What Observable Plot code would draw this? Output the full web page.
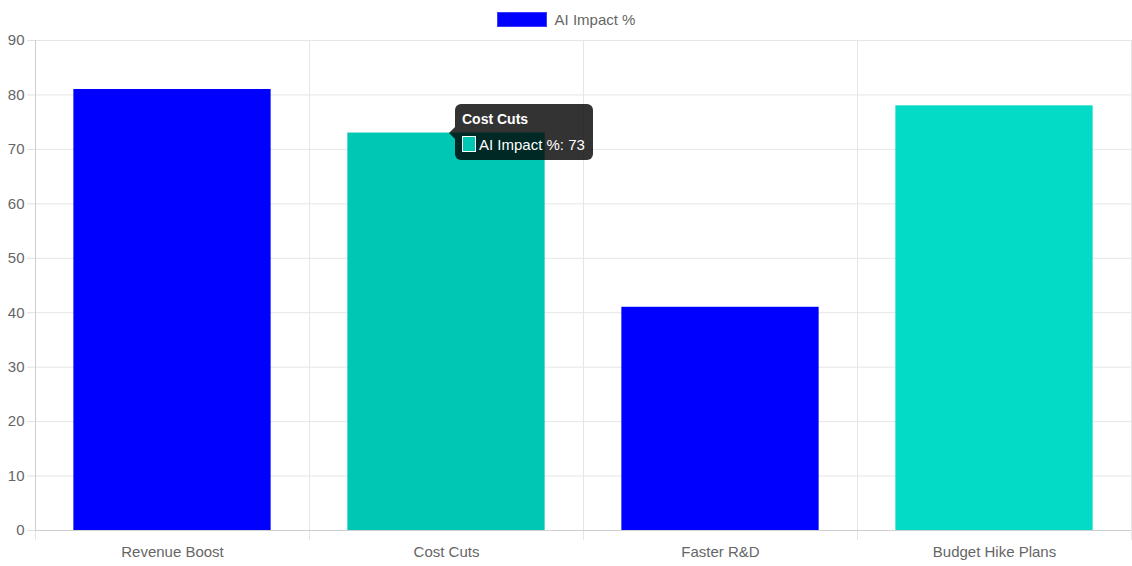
<!DOCTYPE html>
<html>
<head>
<meta charset="utf-8">
<script src="https://cdn.jsdelivr.net/npm/d3@7"></script>
<script src="https://cdn.jsdelivr.net/npm/@observablehq/plot@0.6"></script>
<style>
  html, body { margin: 0; padding: 0; background: #fff; }
  body { width: 1132px; height: 566px; overflow: hidden; font-family: "Liberation Sans", Arial, sans-serif; }
  #wrap { position: relative; width: 1132px; height: 566px; }
  #legend { height: 30px; display: flex; justify-content: center; align-items: center; padding-top: 8px; box-sizing: border-box; color: #666; font-size: 15px; }
  #legend .sw { width: 48px; height: 13px; background: #0000ff; border: 1px solid #3b3bff; margin-right: 8px; }
  .tip { position: absolute; background: rgba(0,0,0,0.8); color: #fff; border-radius: 6px; font-size: 14px; padding: 7px 8px 7px 7px; box-sizing: border-box; white-space: nowrap; }
  .tip .t { font-weight: bold; margin-bottom: 9px; }
  .tip .row { display: flex; align-items: center; font-size: 15px; }
  .tip .b { width: 12px; height: 14px; border: 1px solid #fff; margin-right: 3px; }
  .tip::before { content: ""; position: absolute; left: -6px; top: 23px; border-top: 6px solid transparent; border-bottom: 6px solid transparent; border-right: 6px solid rgba(0,0,0,0.8); }
</style>
</head>
<body>
<div id="wrap">
  <div id="legend"><div class="sw"></div><span>AI Impact %</span></div>
  <div id="chart"></div>
</div>
<script>
const categories = ["Revenue Boost", "Cost Cuts", "Faster R&D", "Budget Hike Plans"];
const values = [81, 73, 41, 78];
const barColors = ["#0000ff", "#00c7b4", "#0000ff", "#03dbc6"];
const yTicks = [0, 10, 20, 30, 40, 50, 60, 70, 80, 90];
const seriesName = "AI Impact %";
const hovered = 1;

const data = categories.map((c, i) => ({ c, i, v: values[i], color: barColors[i] }));
const boundaries = d3.range(categories.length + 1);
const centers = categories.map((_, i) => i + 0.5);

const chart = Plot.plot({
  width: 1132,
  height: 536,
  marginTop: 10,
  marginLeft: 35,
  marginRight: 1,
  marginBottom: 36,
  style: { fontFamily: "Liberation Sans, Arial, sans-serif", fontSize: "15px", color: "#666", background: "#fff" },
  x: { type: "linear", domain: [0, categories.length], label: null },
  y: { domain: [0, 90], label: null },
  marks: [
    Plot.gridY(yTicks, { stroke: "#e6e6e6", strokeOpacity: 1 }),
    Plot.ruleX(boundaries, { x: d => d, y1: 90, y2: 0, stroke: "#e6e6e6", insetBottom: -10 }),
    Plot.rectY(data, { x1: d => d.i + 0.14, x2: d => d.i + 0.86, y: "v", fill: "color" }),
    Plot.ruleY([0], { stroke: "#cfcfcf" }),
    Plot.ruleX([0], { y1: 0, y2: 90, stroke: "#cfcfcf" }),
    Plot.axisY({ ticks: yTicks, tickSize: 8, tickPadding: 3, stroke: "#e0e0e0", fill: "#666", fontSize: 15, label: null, tickFormat: d => d }),
    Plot.axisX({ ticks: centers, tickSize: 0, tickPadding: 16, fill: "#666", fontSize: 15, label: null, tickFormat: d => categories[Math.floor(d)] })
  ]
});
document.getElementById("chart").appendChild(chart);

// tooltip for hovered bar
const xs = chart.scale("x"), ys = chart.scale("y");
const tx = xs.apply(hovered + 0.5) + 9;
const ty = ys.apply(values[hovered]) + 30;
const tip = document.createElement("div");
tip.className = "tip";
tip.style.left = tx + "px";
tip.style.top = (ty - 29) + "px";
tip.innerHTML = `<div class="t">${categories[hovered]}</div><div class="row"><div class="b" style="background:${barColors[hovered]}"></div>${seriesName}: ${values[hovered]}</div>`;
document.getElementById("wrap").appendChild(tip);
</script>
</body>
</html>
